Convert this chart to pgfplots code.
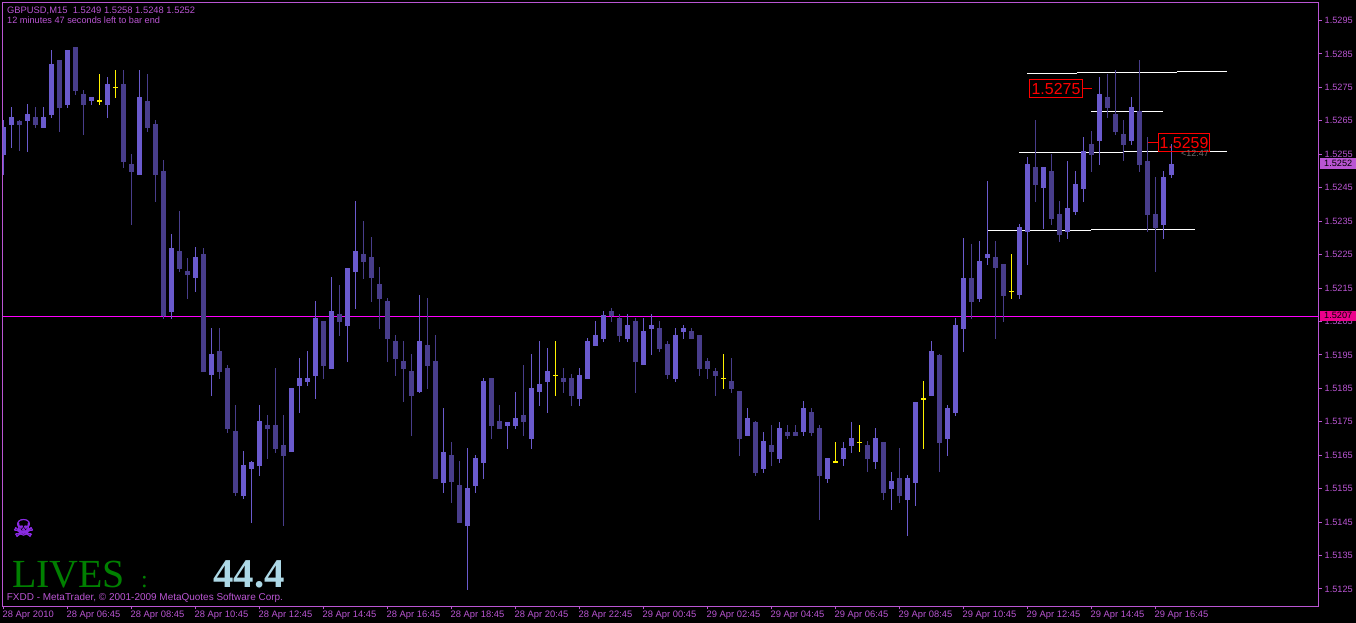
\documentclass[border=0pt]{standalone}
\usepackage{pgfplots}
\usepackage{pgfplotstable}
\usepackage{fontspec}
\pgfplotsset{compat=1.18}
\setmainfont{Liberation Sans}
\newfontfamily\serifnum{Liberation Serif}
\newfontfamily\symb[FakeBold=2.5]{DejaVu Sans}
\definecolor{upbar}{HTML}{6A5ACD}
\definecolor{dnbar}{HTML}{483D8B}
\definecolor{frame}{HTML}{BA55D3}
\definecolor{skull}{HTML}{8A2BE2}

\pgfplotstableread{
k o h l c
0 1.5255 1.5265 1.5249 1.5263
1 1.5264 1.5269 1.5257 1.5266
3 1.5265 1.5270 1.5256 1.5267
5 1.5263 1.5269 1.5263 1.5266
6 1.5267 1.5286 1.5266 1.5282
8 1.5270 1.5286 1.5269 1.5286
11 1.5271 1.5272 1.5270 1.5272
13 1.5270 1.5278 1.5266 1.5276
17 1.5249 1.5280 1.5249 1.5272
21 1.5208 1.5231 1.5206 1.5227
24 1.5218 1.5227 1.5214 1.5224
26 1.5189 1.5203 1.5183 1.5195
30 1.5153 1.5166 1.5152 1.5162
31 1.5161 1.5163 1.5145 1.5163
32 1.5162 1.5180 1.5159 1.5175
36 1.5166 1.5185 1.5166 1.5185
37 1.5186 1.5194 1.5178 1.5188
38 1.5187 1.5196 1.5186 1.5188
39 1.5189 1.5211 1.5182 1.5206
41 1.5191 1.5218 1.5191 1.5208
43 1.5204 1.5221 1.5193 1.5221
44 1.5220 1.5241 1.5209 1.5226
52 1.5184 1.5213 1.5184 1.5199
55 1.5157 1.5179 1.5154 1.5166
58 1.5144 1.5167 1.5125 1.5155
59 1.5156 1.5165 1.5154 1.5164
60 1.5163 1.5188 1.5158 1.5187
63 1.5174 1.5175 1.5167 1.5175
64 1.5174 1.5184 1.5173 1.5176
66 1.5170 1.5195 1.5167 1.5185
67 1.5184 1.5199 1.5180 1.5186
68 1.5187 1.5197 1.5178 1.5190
72 1.5182 1.5191 1.5180 1.5189
73 1.5188 1.5200 1.5188 1.5199
74 1.5198 1.5205 1.5198 1.5201
75 1.5200 1.5208 1.5199 1.5207
78 1.5200 1.5207 1.5199 1.5204
80 1.5192 1.5206 1.5192 1.5202
81 1.5203 1.5207 1.5195 1.5204
84 1.5188 1.5203 1.5187 1.5201
85 1.5202 1.5204 1.5200 1.5203
93 1.5171 1.5179 1.5171 1.5176
95 1.5161 1.5172 1.5160 1.5169
97 1.5164 1.5175 1.5163 1.5173
100 1.5172 1.5181 1.5171 1.5179
103 1.5158 1.5164 1.5157 1.5164
105 1.5164 1.5169 1.5162 1.5167
106 1.5168 1.5175 1.5166 1.5170
109 1.5163 1.5173 1.5161 1.5170
111 1.5155 1.5160 1.5149 1.5157
113 1.5152 1.5159 1.5141 1.5158
114 1.5157 1.5181 1.5150 1.5181
116 1.5183 1.5199 1.5183 1.5196
118 1.5170 1.5180 1.5165 1.5179
119 1.5178 1.5206 1.5177 1.5204
120 1.5203 1.5230 1.5196 1.5218
122 1.5212 1.5229 1.5211 1.5223
123 1.5224 1.5247 1.5222 1.5225
127 1.5213 1.5234 1.5212 1.5233
128 1.5232 1.5254 1.5222 1.5252
130 1.5245 1.5251 1.5233 1.5251
133 1.5232 1.5253 1.5230 1.5239
134 1.5238 1.5250 1.5237 1.5246
135 1.5245 1.5260 1.5241 1.5256
137 1.5259 1.5278 1.5252 1.5273
141 1.5259 1.5272 1.5258 1.5269
145 1.5234 1.5250 1.5230 1.5248
146 1.5249 1.5258 1.5248 1.5252
}\upbars

\pgfplotstableread{
k o h l c
2 1.5265 1.5265 1.5256 1.5264
4 1.5266 1.5269 1.5263 1.5264
7 1.5283 1.5283 1.5262 1.5269
9 1.5287 1.5287 1.5273 1.5274
10 1.5273 1.5274 1.5261 1.5270
15 1.5276 1.5280 1.5251 1.5253
16 1.5252 1.5255 1.5234 1.5250
18 1.5271 1.5279 1.5262 1.5263
19 1.5264 1.5265 1.5241 1.5249
20 1.5250 1.5253 1.5206 1.5207
22 1.5226 1.5238 1.5220 1.5221
23 1.5220 1.5224 1.5212 1.5219
25 1.5225 1.5227 1.5190 1.5190
27 1.5196 1.5203 1.5188 1.5190
28 1.5191 1.5192 1.5172 1.5173
29 1.5172 1.5180 1.5153 1.5154
33 1.5174 1.5177 1.5164 1.5173
34 1.5174 1.5191 1.5166 1.5167
35 1.5168 1.5177 1.5144 1.5165
40 1.5205 1.5205 1.5188 1.5192
42 1.5207 1.5216 1.5201 1.5205
45 1.5225 1.5235 1.5218 1.5223
46 1.5224 1.5230 1.5211 1.5218
47 1.5216 1.5221 1.5203 1.5212
48 1.5211 1.5212 1.5193 1.5200
49 1.5199 1.5201 1.5189 1.5194
50 1.5193 1.5199 1.5181 1.5191
51 1.5190 1.5195 1.5171 1.5183
53 1.5198 1.5212 1.5185 1.5192
54 1.5193 1.5201 1.5158 1.5158
56 1.5165 1.5169 1.5151 1.5157
57 1.5156 1.5163 1.5145 1.5145
61 1.5188 1.5188 1.5170 1.5174
62 1.5175 1.5180 1.5173 1.5173
65 1.5177 1.5192 1.5171 1.5175
70 1.5188 1.5191 1.5184 1.5187
71 1.5188 1.5189 1.5180 1.5183
76 1.5208 1.5209 1.5205 1.5207
77 1.5206 1.5207 1.5199 1.5201
79 1.5205 1.5206 1.5184 1.5193
82 1.5203 1.5205 1.5196 1.5197
83 1.5198 1.5199 1.5188 1.5189
86 1.5202 1.5203 1.5200 1.5200
87 1.5201 1.5201 1.5189 1.5191
88 1.5193 1.5194 1.5188 1.5191
89 1.5190 1.5191 1.5183 1.5189
91 1.5187 1.5194 1.5184 1.5185
92 1.5184 1.5184 1.5165 1.5170
94 1.5175 1.5175 1.5159 1.5160
96 1.5168 1.5174 1.5162 1.5166
98 1.5172 1.5174 1.5170 1.5171
99 1.5172 1.5174 1.5171 1.5171
101 1.5178 1.5179 1.5171 1.5172
102 1.5173 1.5174 1.5146 1.5159
108 1.5168 1.5169 1.5160 1.5164
110 1.5169 1.5169 1.5152 1.5154
112 1.5158 1.5167 1.5151 1.5153
117 1.5195 1.5195 1.5160 1.5169
121 1.5218 1.5228 1.5206 1.5211
124 1.5224 1.5229 1.5200 1.5221
125 1.5222 1.5222 1.5205 1.5213
129 1.5251 1.5265 1.5241 1.5246
131 1.5250 1.5255 1.5234 1.5236
132 1.5237 1.5241 1.5229 1.5231
136 1.5258 1.5262 1.5250 1.5255
138 1.5272 1.5279 1.5266 1.5269
139 1.5267 1.5280 1.5261 1.5262
140 1.5261 1.5265 1.5253 1.5258
142 1.5268 1.5283 1.5250 1.5252
143 1.5253 1.5260 1.5232 1.5237
144 1.5237 1.5248 1.5220 1.5233
}\dnbars

\pgfplotstableread{
k o h l c
12 1.5271 1.5279 1.5270 1.5271
14 1.5275 1.5280 1.5272 1.5275
69 1.5189 1.5199 1.5183 1.5189
90 1.5188 1.5195 1.5185 1.5188
104 1.5163 1.5169 1.5163 1.5163
107 1.5169 1.5174 1.5166 1.5169
115 1.5182 1.5187 1.5167 1.5182
126 1.5214 1.5225 1.5212 1.5214
}\dojibars

\pgfplotsset{
  cstick/.style n args={2}{draw=none, no markers, forget plot,
    error bars/.cd, y dir=both, y explicit, error mark=none,
    error bar style={solid, draw=#2, line width=#1, line cap=butt}},
}
\newcommand\wicks[2]{\addplot[cstick={1bp}{#2}] table[x=k, y expr={(\thisrow{h}+\thisrow{l})/2}, y error expr={(\thisrow{h}-\thisrow{l})/2+0.000015}] {#1};}
\newcommand\bodies[2]{\addplot[cstick={5bp}{#2}] table[x=k, y expr={(\thisrow{o}+\thisrow{c})/2}, y error expr={abs(\thisrow{o}-\thisrow{c})/2+0.000015}] {#1};}

\begin{document}
\begin{tikzpicture}
\path[use as bounding box] (0,0) rectangle (1356bp,623bp);
\fill[black] (0,0) rectangle (1356bp,623bp);
\begin{axis}[
  at={(2.5bp,16.5bp)}, anchor=south west,
  scale only axis, width=1316bp, height=604bp,
  xmin=-0.125, xmax=164.375, ymin=1.5119761, ymax=1.530038,
  axis line style={line width=1bp, color=frame},
  tick style={line width=1bp, color=frame},
  major tick length=3bp,
  tick align=outside,
  xtick pos=lower, ytick pos=upper,
  xticklabel pos=lower, yticklabel pos=upper,
  xtick={0,8,...,144},
  xticklabels={28 Apr 2010,28 Apr 06:45,28 Apr 08:45,28 Apr 10:45,28 Apr 12:45,28 Apr 14:45,28 Apr 16:45,28 Apr 18:45,28 Apr 20:45,28 Apr 22:45,29 Apr 00:45,29 Apr 02:45,29 Apr 04:45,29 Apr 06:45,29 Apr 08:45,29 Apr 10:45,29 Apr 12:45,29 Apr 14:45,29 Apr 16:45},
  ytick={1.5125,1.5135,1.5145,1.5155,1.5165,1.5175,1.5185,1.5195,1.5205,1.5215,1.5225,1.5235,1.5245,1.5255,1.5265,1.5275,1.5285,1.5295},
  yticklabels={1.5125,1.5135,1.5145,1.5155,1.5165,1.5175,1.5185,1.5195,1.5205,1.5215,1.5225,1.5235,1.5245,1.5255,1.5265,1.5275,1.5285,1.5295},
  x tick label style={anchor=north west, inner sep=0pt, xshift=-1bp, yshift=-1bp, font=\fontsize{9.4}{11}\selectfont, text=frame},
  y tick label style={anchor=west, inner sep=0pt, xshift=3bp, font=\fontsize{9.2}{11}\selectfont, text=frame},
]
% bid line
\addplot[color={rgb,255:red,255;green,0;blue,255}, line width=1bp, forget plot] coordinates {(-0.125,1.520648)(164.375,1.520648)};
% white trend lines
\addplot[white, line width=1bp, forget plot] coordinates {(127.94,1.52792)(134.19,1.52792)};
\addplot[white, line width=1bp, forget plot] coordinates {(134.19,1.52795)(146.69,1.52795)};
\addplot[white, line width=1bp, forget plot] coordinates {(146.69,1.52798)(152.94,1.52798)};
\addplot[white, line width=1bp, forget plot] coordinates {(135.94,1.52678)(144.94,1.52678)};
\addplot[white, line width=1bp, forget plot] coordinates {(126.94,1.52556)(139.94,1.52556)};
\addplot[white, line width=1bp, forget plot] coordinates {(139.94,1.52559)(152.94,1.52559)};
\addplot[white, line width=1bp, forget plot] coordinates {(123.06,1.52323)(135.94,1.52323)};
\addplot[white, line width=1bp, forget plot] coordinates {(135.94,1.52326)(148.94,1.52326)};
% red leaders
\addplot[red, line width=1bp, forget plot] coordinates {(134.81,1.52747)(136.06,1.52747)};
\addplot[red, line width=1bp, forget plot] coordinates {(143.03,1.52586)(144.35,1.52586)};
% candles
\wicks{\upbars}{upbar}
\bodies{\upbars}{upbar}
\wicks{\dnbars}{dnbar}
\bodies{\dnbars}{dnbar}
\wicks{\dojibars}{yellow}
\bodies{\dojibars}{yellow}
\end{axis}
\begin{scope}[x=1bp,y=-1bp,shift={(0,623bp)}]
% price tags
\fill[frame] (1320,158) rectangle (1356,168.7);
\node[anchor=west, inner sep=0pt, font=\fontsize{9.2}{11}\selectfont, text=black] at (1324,163.4) {1.5252};
\fill[magenta] (1320,310.7) rectangle (1356,320.7);
\node[anchor=west, inner sep=0pt, font=\fontsize{9.2}{11}\selectfont, text=black] at (1324,315.7) {1.5207};
% header
\node[anchor=west, inner sep=0pt, font=\fontsize{9.4}{11}\selectfont, text=frame] at (7,10.5) {GBPUSD,M15\ \ 1.5249 1.5258 1.5248 1.5252};
\node[anchor=west, inner sep=0pt, font=\fontsize{9.2}{11}\selectfont, text=frame] at (7,20.7) {12 minutes 47 seconds left to bar end};
% red labels
\draw[red, line width=1bp] (1029.5,79.5) rectangle (1082,97.5);
\node[anchor=center, inner sep=0pt, font=\fontsize{16}{18}\selectfont, text=red] at (1056,89) {1.5275};
\draw[red, line width=1bp] (1158.5,133.5) rectangle (1209.5,151.5);
\node[anchor=center, inner sep=0pt, font=\fontsize{16}{18}\selectfont, text=red] at (1184,143) {1.5259};
\node[anchor=west, inner sep=0pt, font=\fontsize{9}{11}\selectfont, text={rgb,255:red,110;green,110;blue,110}] at (1181,153.5) {<12:47};
% lower-left
\node[inner sep=0pt, font=\symb\fontsize{24}{26}\selectfont, text=skull] at (23.5,528) {☠};
\node[anchor=base west, inner sep=0pt, font=\serifnum\fontsize{40}{42}\selectfont, text={rgb,255:red,0;green,128;blue,0}] at (12,588) {LIVES};
\node[anchor=base west, inner sep=0pt, font=\serifnum\fontsize{24}{26}\selectfont, text={rgb,255:red,0;green,128;blue,0}] at (141,588) {:};
\node[anchor=base west, inner sep=0pt, font=\serifnum\bfseries\fontsize{41}{43}\selectfont, text={rgb,255:red,173;green,216;blue,230}] at (213,588) {44.4};
\node[anchor=west, inner sep=0pt, font=\fontsize{10}{11}\selectfont, text=frame] at (6.7,597.5) {FXDD - MetaTrader, © 2001-2009 MetaQuotes Software Corp.};
\end{scope}
\end{tikzpicture}
\end{document}
